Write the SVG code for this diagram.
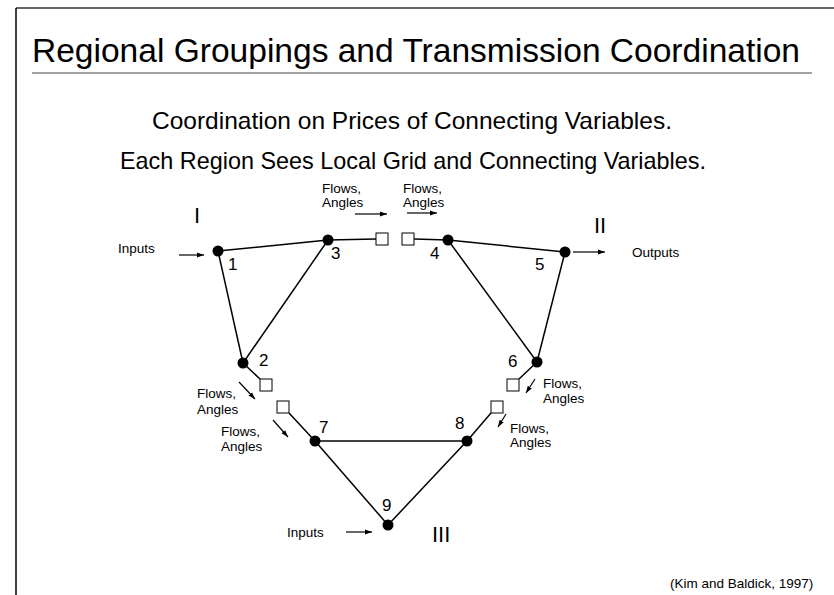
<svg xmlns="http://www.w3.org/2000/svg" width="834" height="595" viewBox="0 0 834 595">
<defs>
<style>
text{font-family:"Liberation Sans",Arial,sans-serif;fill:#000}
.t{font-size:33px}
.s{font-size:24px}
.sm{font-size:13.5px}
.n{font-size:17px}
.r{font-size:22px}
.e{stroke:#000;stroke-width:1.5;fill:none}
.a{stroke:#000;stroke-width:1.2;fill:none;marker-end:url(#ah)}
.sq{fill:#fff;stroke:#000;stroke-width:1}
.dot{fill:#000}
</style>
<marker id="ah" viewBox="0 0 10 10" refX="10" refY="5" markerWidth="7" markerHeight="7" markerUnits="userSpaceOnUse" orient="auto">
<path d="M0,1.5 L10,5 L0,8.5 z" fill="#000"/>
</marker>
</defs>
<rect width="834" height="595" fill="#fff"/>
<g id="frame">
<line x1="16" y1="8" x2="834" y2="8" stroke="#333" stroke-width="1.5"/>
<line x1="16" y1="8" x2="16" y2="595" stroke="#000" stroke-width="1.5"/>
<line x1="32" y1="73" x2="812" y2="73" stroke="#444" stroke-width="1.2"/>
</g>
<g id="titles">
<text class="t" x="32" y="62" textLength="768" lengthAdjust="spacingAndGlyphs">Regional Groupings and Transmission Coordination</text>
<text class="s" x="152" y="129" textLength="520" lengthAdjust="spacingAndGlyphs">Coordination on Prices of Connecting Variables.</text>
<text class="s" x="120" y="169" textLength="586" lengthAdjust="spacingAndGlyphs">Each Region Sees Local Grid and Connecting Variables.</text>
</g>
<g id="connectors">
<line class="e" x1="218" y1="251" x2="328" y2="240"/>
<line class="e" x1="218" y1="251" x2="243" y2="363"/>
<line class="e" x1="243" y1="363" x2="328" y2="240"/>
<line class="e" x1="328" y1="240" x2="376" y2="239"/>
<line class="e" x1="414" y1="239" x2="448" y2="240"/>
<line class="e" x1="448" y1="240" x2="565" y2="252"/>
<line class="e" x1="448" y1="240" x2="537" y2="362"/>
<line class="e" x1="565" y1="252" x2="537" y2="362"/>
<line class="e" x1="243" y1="363" x2="260" y2="379"/>
<line class="e" x1="289" y1="413" x2="315" y2="441"/>
<line class="e" x1="537" y1="362" x2="519" y2="379"/>
<line class="e" x1="491" y1="413" x2="467" y2="441"/>
<line class="e" x1="315" y1="441" x2="467" y2="441"/>
<line class="e" x1="315" y1="441" x2="388" y2="525"/>
<line class="e" x1="467" y1="441" x2="388" y2="525"/>
<line class="a" x1="179" y1="255" x2="204" y2="255"/>
<line class="a" x1="573" y1="252" x2="605" y2="252"/>
<line class="a" x1="346" y1="532" x2="372" y2="532"/>
<line class="a" x1="355" y1="214" x2="387" y2="214"/>
<line class="a" x1="407" y1="213" x2="437" y2="213"/>
<line class="a" x1="239" y1="382" x2="255" y2="399"/>
<line class="a" x1="273" y1="420" x2="288" y2="437"/>
<line class="a" x1="535" y1="379" x2="526" y2="393"/>
<line class="a" x1="506" y1="414" x2="498" y2="427"/>
</g>
<g id="ports">
<rect class="sq" x="376" y="233" width="12" height="12"/>
<rect class="sq" x="402" y="233" width="12" height="12"/>
<rect class="sq" x="260" y="379" width="12" height="12"/>
<rect class="sq" x="277" y="401" width="12" height="12"/>
<rect class="sq" x="507" y="379" width="12" height="12"/>
<rect class="sq" x="491" y="401" width="12" height="12"/>
</g>
<g id="node1"><circle class="dot" cx="218" cy="251" r="5.5"/><text class="n" x="228" y="270">1</text></g>
<g id="node2"><circle class="dot" cx="243" cy="363" r="5.5"/><text class="n" x="259" y="366">2</text></g>
<g id="node3"><circle class="dot" cx="328" cy="240" r="5.5"/><text class="n" x="331" y="259">3</text></g>
<g id="node4"><circle class="dot" cx="448" cy="240" r="5.5"/><text class="n" x="430" y="259">4</text></g>
<g id="node5"><circle class="dot" cx="565" cy="252" r="5.5"/><text class="n" x="535" y="270">5</text></g>
<g id="node6"><circle class="dot" cx="537" cy="362" r="5.5"/><text class="n" x="508" y="367">6</text></g>
<g id="node7"><circle class="dot" cx="315" cy="441" r="5.5"/><text class="n" x="319" y="433">7</text></g>
<g id="node8"><circle class="dot" cx="467" cy="441" r="5.5"/><text class="n" x="455" y="429">8</text></g>
<g id="node9"><circle class="dot" cx="388" cy="525" r="5.5"/><text class="n" x="382" y="511">9</text></g>
<g id="labels">
<text class="r" x="194" y="223">I</text>
<text class="r" x="594" y="233">II</text>
<text class="r" x="432" y="542">III</text>
<text class="sm" x="118" y="253">Inputs</text>
<text class="sm" x="632" y="257">Outputs</text>
<text class="sm" x="287" y="537">Inputs</text>
<text class="sm" x="322" y="193">Flows,</text>
<text class="sm" x="322" y="207">Angles</text>
<text class="sm" x="403" y="193">Flows,</text>
<text class="sm" x="403" y="207">Angles</text>
<text class="sm" x="197" y="398">Flows,</text>
<text class="sm" x="197" y="414">Angles</text>
<text class="sm" x="221" y="436">Flows,</text>
<text class="sm" x="221" y="451">Angles</text>
<text class="sm" x="543" y="388">Flows,</text>
<text class="sm" x="543" y="403">Angles</text>
<text class="sm" x="510" y="433">Flows,</text>
<text class="sm" x="510" y="447">Angles</text>
<text class="sm" x="670" y="588">(Kim and Baldick, 1997)</text>
</g>
</svg>
